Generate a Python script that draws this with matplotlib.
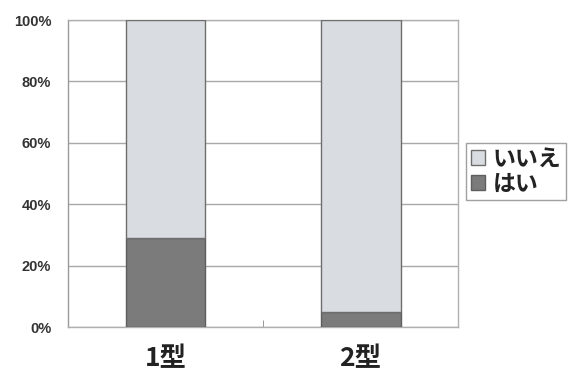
import matplotlib
matplotlib.use("Agg")
import matplotlib.pyplot as plt
from matplotlib.ticker import PercentFormatter, FixedLocator

plt.rcParams['font.family'] = ['Noto Sans CJK JP', 'DejaVu Sans']

categories = ['1型', '2型']
hai = [29, 5]          # はい
iie = [71, 95]         # いいえ
yticks = [0, 20, 40, 60, 80, 100]

fig = plt.figure(figsize=(5.69, 3.77), dpi=100)
ax = fig.add_axes([0.1195, 0.1326, 0.6855, 0.8143])

x = range(len(categories))
w = 0.41
ax.bar(x, hai, width=w, color='#7b7b7b', edgecolor='#5e5e5e', linewidth=1.0,
       label='はい', zorder=3)
ax.bar(x, iie, width=w, bottom=hai, color='#d9dce0', edgecolor='#6e6e6e',
       linewidth=1.0, label='いいえ', zorder=3)

ax.set_xlim(-0.5, 1.5)
ax.set_ylim(0, 100)
ax.set_yticks(yticks)
ax.yaxis.set_major_formatter(PercentFormatter(decimals=0))
ax.grid(axis='y', color='#a8a8a8', linewidth=1.0, zorder=0)

for s in ax.spines.values():
    s.set_color('#b0b0b0')
    s.set_linewidth(1.0)
ax.spines['left'].set_color('#9a9a9a')

ax.set_xticks(list(x))
ax.set_xticklabels(categories, fontsize=19, fontweight='bold', color='#222222')
ax.tick_params(axis='x', length=0, pad=13)
ax.xaxis.set_minor_locator(FixedLocator([0.5]))
ax.tick_params(axis='x', which='minor', direction='in', length=5, color='#888888')
ax.tick_params(axis='y', length=0, pad=12)
for t in ax.get_yticklabels():
    t.set_fontfamily('Liberation Sans')
    t.set_fontweight('bold')
    t.set_fontsize(10.5)
    t.set_color('#333333')

handles, labels = ax.get_legend_handles_labels()
leg = fig.legend(handles[::-1], labels[::-1], loc='upper left',
                 bbox_to_anchor=(466 / 569, 1 - 143 / 377),
                 prop={'size': 16.5, 'weight': 'bold'}, frameon=True,
                 fancybox=False, borderpad=0.2, handlelength=0.65,
                 handleheight=0.65, handletextpad=0.3, labelspacing=0.1,
                 borderaxespad=0)
leg.get_frame().set_edgecolor('#888888')
leg.get_frame().set_linewidth(1.0)
for t in leg.get_texts():
    t.set_color('#222222')

fig.savefig('out.png', dpi=100)
